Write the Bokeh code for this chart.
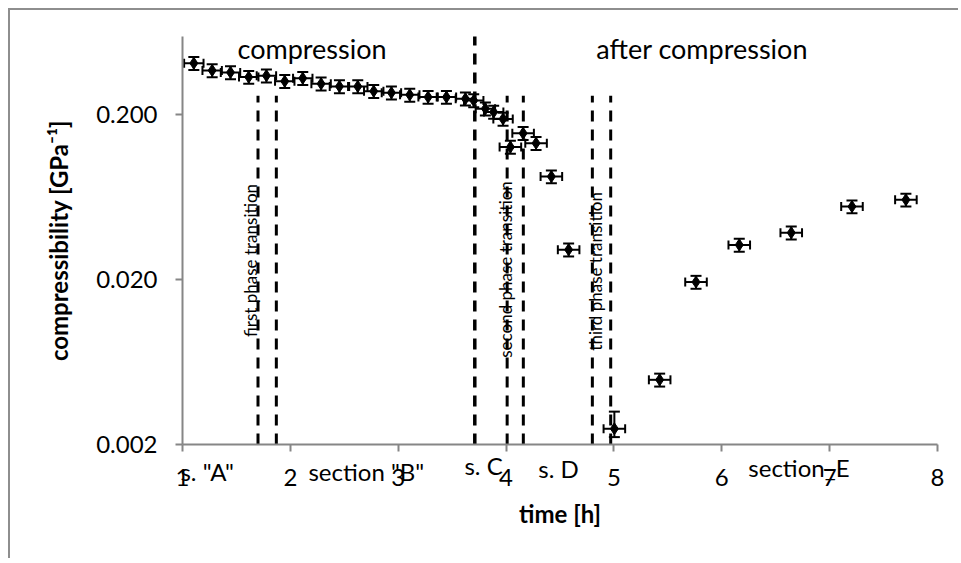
from bokeh.plotting import figure
from bokeh.models import Whisker, TeeHead, ColumnDataSource, Label, FixedTicker, NumeralTickFormatter
from bokeh.embed import file_html
from bokeh.resources import INLINE

# ---- data ----
time_h = [1.105, 1.275, 1.445, 1.614, 1.778, 1.948, 2.115, 2.285, 2.455, 2.625,
          2.773, 2.937, 3.107, 3.277, 3.447, 3.623, 3.700, 3.808, 3.885, 3.972,
          4.040, 4.158, 4.278, 4.420, 4.580, 5.004, 5.424, 5.761, 6.162, 6.644,
          7.207, 7.707]
compressibility = [0.409, 0.370, 0.360, 0.337, 0.344, 0.318, 0.332, 0.307, 0.296, 0.296,
                   0.277, 0.271, 0.263, 0.255, 0.255, 0.249, 0.243, 0.217, 0.207, 0.188,
                   0.127, 0.154, 0.134, 0.0841, 0.0303, 0.00249, 0.00493, 0.0193, 0.0324, 0.0384,
                   0.0553, 0.0608]
time_err = [0.09, 0.09, 0.09, 0.09, 0.09, 0.09, 0.09, 0.09, 0.09, 0.09,
            0.09, 0.09, 0.09, 0.09, 0.09, 0.09, 0.09, 0.09, 0.09, 0.09,
            0.1, 0.1, 0.1, 0.1, 0.1, 0.1, 0.1, 0.1, 0.1, 0.1,
            0.1, 0.1]
# relative errors of compressibility (upper / lower)
rel_err_hi = [0.09] * 25 + [0.27] + [0.09] * 6
rel_err_lo = [0.09] * 25 + [0.11] + [0.09] * 6

transition_x = [1.70, 1.87, 3.71, 4.01, 4.16, 4.80, 4.97]
transition_top = [0.26, 0.26, 0.594, 0.26, 0.26, 0.26, 0.26]
x_ticks = [1, 2, 3, 4, 5, 6, 7, 8]
y_ticks = [0.002, 0.02, 0.2]
x_min, x_max = 1, 8
y_min, y_max = 0.002, 0.594

FONT = "Lato"

src = ColumnDataSource(dict(
    t=time_h, c=compressibility,
    t_lo=[t - e for t, e in zip(time_h, time_err)],
    t_hi=[t + e for t, e in zip(time_h, time_err)],
    c_lo=[c * (1 - e) for c, e in zip(compressibility, rel_err_lo)],
    c_hi=[c * (1 + e) for c, e in zip(compressibility, rel_err_hi)],
))

# frame fills the whole canvas; axes are pinned inside it
p = figure(width=950, height=550, x_range=(-0.5947, 8.2132), y_range=(0.000396, 0.8538),
           y_axis_type="log", output_backend="svg", toolbar_location=None,
           min_border_left=0, min_border_right=0, min_border_top=0, min_border_bottom=0)
p.styles = {"margin-left": "8px", "margin-top": "8px",
            "border-left": "2px solid #8e8e8e", "border-top": "2px solid #8e8e8e"}
p.outline_line_color = None
p.grid.visible = False
p.background_fill_color = "white"
p.border_fill_color = "white"

# transition lines
tsrc = ColumnDataSource(dict(x=transition_x, y0=[y_min] * len(transition_x), y1=transition_top,
                             w=[3, 3, 3.5, 3, 3, 3, 3]))
p.segment(x0="x", y0="y0", x1="x", y1="y1", source=tsrc, line_color="black",
          line_width="w", line_dash="11 8")

# error bars
vw = Whisker(source=src, base="t", lower="c_lo", upper="c_hi", dimension="height",
             line_color="black", line_width=2,
             upper_head=TeeHead(size=11, line_width=2, line_color="black"),
             lower_head=TeeHead(size=11, line_width=2, line_color="black"))
hw = Whisker(source=src, base="c", lower="t_lo", upper="t_hi", dimension="width",
             line_color="black", line_width=2,
             upper_head=TeeHead(size=9, line_width=2, line_color="black"),
             lower_head=TeeHead(size=9, line_width=2, line_color="black"))
p.add_layout(vw)
p.add_layout(hw)

p.scatter("t", "c", source=src, marker="diamond", size=12, color="black")

# axes
for ax in (p.xaxis[0], p.yaxis[0]):
    ax.axis_line_color = "#868686"
    ax.axis_line_width = 2
    ax.major_tick_line_color = "#868686"
    ax.major_tick_line_width = 2
    ax.major_tick_in = 0
    ax.major_tick_out = 7
    ax.minor_tick_line_color = None
    ax.major_label_text_font = FONT
    ax.major_label_text_font_size = "24px"
    ax.major_label_text_color = "black"
    ax.axis_label_text_font = FONT
    ax.axis_label_text_font_style = "bold"
    ax.axis_label_text_font_size = "24px"
    ax.axis_label_text_color = "black"

p.xaxis.fixed_location = y_min
p.xaxis.bounds = (x_min, x_max)
p.yaxis.fixed_location = x_min
p.yaxis.bounds = (y_min, y_max)
p.xaxis.ticker = FixedTicker(ticks=x_ticks)
p.yaxis.ticker = FixedTicker(ticks=y_ticks)
p.yaxis.formatter = NumeralTickFormatter(format="0.000")
p.xaxis.axis_label = "time [h]"
p.yaxis.axis_label = "compressibility [GPa⁻¹]"
p.xaxis.major_label_standoff = 18
p.yaxis.major_label_standoff = 18
p.xaxis.axis_label_standoff = 9
p.yaxis.axis_label_standoff = 20

# annotations
def lab(x, y, text, size, angle=0, align="left", baseline="alphabetic"):
    p.add_layout(Label(x=x, y=y, text=text, text_font=FONT, text_font_size=size,
                       text_color="black", angle=angle, text_align=align,
                       text_baseline=baseline))

lab(1.51, 0.502, "compression", "27px")
lab(4.837, 0.502, "after compression", "27px")
lab(0.981, 0.00137, 's. "A"', "24px")
lab(2.168, 0.00137, 'section "B"', "24px")
lab(3.614, 0.00149, "s. C", "24px")
lab(4.299, 0.00143, "s. D", "24px")
lab(6.246, 0.00145, "section_E", "24px")
lab(1.63, 0.0261, "first phase transition", "17px", angle=1.5708, align="center", baseline="middle")
lab(3.993, 0.0230, "second phase transition", "17px", angle=1.5708, align="center", baseline="middle")
lab(4.828, 0.0224, "third phase transition", "17px", angle=1.5708, align="center", baseline="middle")

open("out.html", "w").write(file_html(p, INLINE))
